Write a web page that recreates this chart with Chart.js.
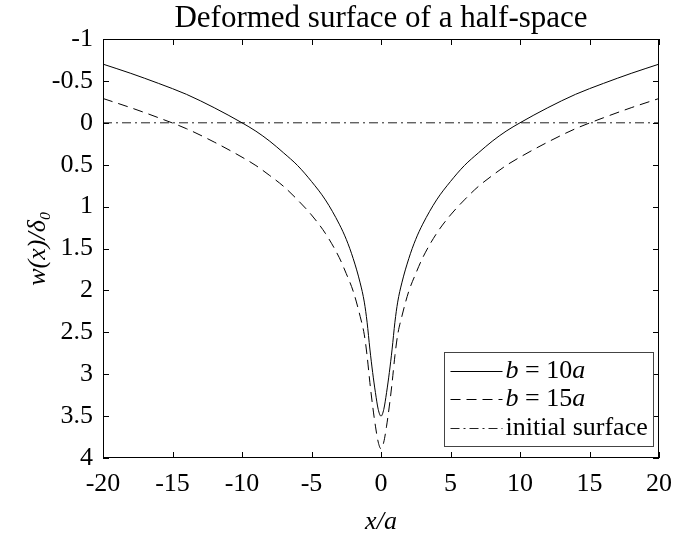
<!DOCTYPE html>
<html lang="en">
<head>
<meta charset="UTF-8">
<title>Deformed surface of a half-space</title>
<script src="https://cdn.jsdelivr.net/npm/chart.js"></script>
<style>
  html, body { margin: 0; padding: 0; background: #fff; }
  #wrap { width: 683px; height: 540px; position: relative; }
</style>
</head>
<body>
<div id="wrap"><canvas id="surfChart"></canvas></div>
<script>
  // x/a positions where the curves were read
  const xPos = [-20, -18, -16, -14, -12, -10, -9, -8, -7, -6, -5, -4, -3, -2.5, -2, -1.5, -1.2, -1, -0.8, -0.6, -0.4, -0.2, 0,
                0.2, 0.4, 0.6, 0.8, 1, 1.2, 1.5, 2, 2.5, 3, 4, 5, 6, 7, 8, 9, 10, 12, 14, 16, 18, 20];
  // w(x)/delta0 for b = 10a
  const wB10 = [-0.70, -0.59, -0.47, -0.34, -0.18, 0.00, 0.10, 0.22, 0.36, 0.51, 0.70, 0.92, 1.21, 1.39, 1.62, 1.91, 2.14, 2.38, 2.70, 2.98, 3.22, 3.42, 3.50,
                3.42, 3.22, 2.98, 2.70, 2.38, 2.14, 1.91, 1.62, 1.39, 1.21, 0.92, 0.70, 0.51, 0.36, 0.22, 0.10, 0.00, -0.18, -0.34, -0.47, -0.59, -0.70];
  // w(x)/delta0 for b = 15a
  const wB15 = [-0.29, -0.18, -0.06, 0.07, 0.23, 0.41, 0.51, 0.63, 0.76, 0.92, 1.10, 1.32, 1.61, 1.80, 2.01, 2.31, 2.53, 2.78, 3.10, 3.38, 3.62, 3.81, 3.89,
                3.81, 3.62, 3.38, 3.10, 2.78, 2.53, 2.31, 2.01, 1.80, 1.61, 1.32, 1.10, 0.92, 0.76, 0.63, 0.51, 0.41, 0.23, 0.07, -0.06, -0.18, -0.29];
  // initial (undeformed) surface
  const surfX = [-20, 20];
  const surfW = [0, 0];

  // legend labels, split into [text, italic?] pieces
  const legendParts = [
    [['b', true], [' = 10', false], ['a', true]],
    [['b', true], [' = 15', false], ['a', true]],
    [['initial surface', false]]
  ];

  const serif = "'Liberation Serif', 'DejaVu Serif', serif";

  const pts = (xs, ys) => xs.map((x, i) => ({ x: x, y: ys[i] }));

  // box round the axes, inward ticks on all four sides, and the legend
  const framePlugin = {
    id: 'frame',
    afterDraw(chart) {
      const { ctx, chartArea: a, scales: { x, y } } = chart;
      const tl = 6;
      ctx.save();
      ctx.strokeStyle = '#000';
      ctx.lineWidth = 1;
      ctx.strokeRect(a.left + 0.5, a.top + 0.5, a.right - a.left - 1, a.bottom - a.top - 1);
      ctx.beginPath();
      x.ticks.forEach(t => {
        const px = Math.round(x.getPixelForValue(t.value)) + 0.5;
        ctx.moveTo(px, a.bottom); ctx.lineTo(px, a.bottom - tl);
        ctx.moveTo(px, a.top); ctx.lineTo(px, a.top + tl);
      });
      y.ticks.forEach(t => {
        const py = Math.round(y.getPixelForValue(t.value)) + 0.5;
        ctx.moveTo(a.left, py); ctx.lineTo(a.left + tl, py);
        ctx.moveTo(a.right, py); ctx.lineTo(a.right - tl, py);
      });
      ctx.stroke();

      // legend box in the lower right corner
      const bx = 444.5, by = 352.5, bw = 209, bh = 94, rowH = 28.5;
      ctx.fillStyle = '#fff';
      ctx.fillRect(bx, by, bw, bh);
      ctx.strokeStyle = '#444';
      ctx.strokeRect(bx, by, bw, bh);
      ctx.textBaseline = 'middle';
      ctx.textAlign = 'left';
      chart.data.datasets.forEach((ds, i) => {
        const ry = Math.round(by + 18 + i * rowH) + 0.5;
        ctx.beginPath();
        ctx.setLineDash(ds.borderDash || []);
        ctx.strokeStyle = ds.borderColor;
        ctx.lineWidth = ds.borderWidth;
        ctx.moveTo(bx + 6, ry); ctx.lineTo(bx + 58, ry);
        ctx.stroke();
        ctx.setLineDash([]);
        let tx = bx + 61;
        ctx.fillStyle = '#000';
        legendParts[i].forEach(([txt, it]) => {
          ctx.font = (it ? 'italic ' : '') + '26px ' + serif;
          ctx.fillText(txt, tx, ry);
          tx += ctx.measureText(txt).width;
        });
      });
      ctx.restore();
    }
  };

  new Chart(document.getElementById('surfChart'), {
    type: 'line',
    data: {
      datasets: [
        { label: 'b = 10a', data: pts(xPos, wB10), borderColor: '#000', borderWidth: 1, pointRadius: 0, cubicInterpolationMode: 'monotone' },
        { label: 'b = 15a', data: pts(xPos, wB15), borderColor: '#000', borderWidth: 1, borderDash: [10, 6], pointRadius: 0, cubicInterpolationMode: 'monotone' },
        { label: 'initial surface', data: pts(surfX, surfW), borderColor: '#222', borderWidth: 1, borderDash: [9, 4, 2, 4], pointRadius: 0 }
      ]
    },
    options: {
      responsive: true,
      maintainAspectRatio: false,
      animation: false,
      layout: { padding: { left: 0, right: 15, top: 0, bottom: 0 } },
      plugins: {
        legend: { display: false },
        tooltip: { enabled: false },
        title: {
          display: true,
          fullSize: false,
          text: 'Deformed surface of a half-space',
          color: '#000',
          font: { family: serif, size: 31, weight: 'normal', lineHeight: 1 },
          padding: { top: 3, bottom: 5 }
        }
      },
      scales: {
        x: {
          type: 'linear',
          min: -20, max: 20,
          grid: { display: false, drawTicks: false },
          border: { display: false },
          ticks: { stepSize: 5, color: '#000', padding: 11, maxRotation: 0, font: { family: serif, size: 26 }, callback: v => String(v) },
          title: { display: true, text: 'x/a', color: '#000', font: { family: serif, size: 26, style: 'italic' }, padding: { top: 0, bottom: 2 } },
          afterFit(s) { s.height = 82; }
        },
        y: {
          type: 'linear',
          reverse: true,
          min: -1, max: 4,
          grid: { display: false, drawTicks: false },
          border: { display: false },
          ticks: { stepSize: 0.5, color: '#000', padding: 10, font: { family: serif, size: 26 }, callback: v => String(v) },
          title: { display: true, text: 'w(x)/\u03B4\u2080', color: '#000', font: { family: serif, size: 26, style: 'italic' }, padding: { top: 23, bottom: 0 } },
          afterFit(s) { s.width = 103; }
        }
      }
    },
    plugins: [framePlugin]
  });
</script>
</body>
</html>
